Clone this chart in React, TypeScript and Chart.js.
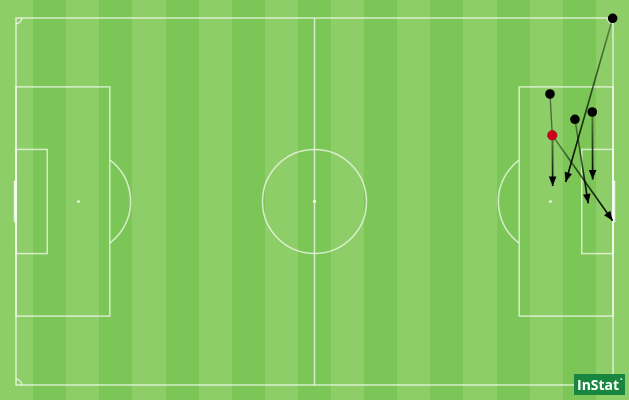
import React, { useEffect, useRef } from "react";
import { Chart, registerables } from "chart.js";

Chart.register(...registerables);

// Pitch dimensions (units along the pitch)
const PITCH_LENGTH = 105;
const PITCH_WIDTH = 64.55;

// Passes (arrows): start and end coordinates
const passStartX = [104.94, 94.32, 94.32, 98.31, 101.35];
const passStartY = [0.05, 20.63, 20.63, 17.82, 16.53];
const passEndX = [96.68, 94.39, 104.94, 100.65, 101.42];
const passEndY = [28.84, 29.55, 35.65, 32.62, 28.4];

// Carry (plain line, no arrowhead)
const carryStartX = [93.92];
const carryStartY = [13.37];
const carryEndX = [94.32];
const carryEndY = [20.63];

// Player dots
const playerX = [104.94, 93.92, 98.31, 101.35];
const playerY = [0.05, 13.37, 17.82, 16.53];

// Highlighted player (red)
const keyX = [94.32];
const keyY = [20.63];

const STRIPE_LIGHT = "rgb(142,206,104)";
const STRIPE_DARK = "rgb(123,198,86)";
const LINE_COLOR = "rgba(255,255,255,0.68)";

const pitchPlugin = {
  id: "pitch",
  beforeDraw(chart: any) {
    const { ctx, scales, width } = chart;
    const sx = scales.x;
    const sy = scales.y;
    const px = (v: number) => sx.getPixelForValue(v);
    const py = (v: number) => sy.getPixelForValue(v);
    const unit = px(1) - px(0);
    ctx.save();
    // stripes
    const n = 19;
    const sw = width / n;
    for (let i = 0; i < n; i++) {
      ctx.fillStyle = i % 2 === 0 ? STRIPE_LIGHT : STRIPE_DARK;
      ctx.fillRect(Math.round(i * sw), 0, Math.ceil(sw) + 1, 400);
    }
    ctx.strokeStyle = LINE_COLOR;
    ctx.lineWidth = 1.5;
    const L = PITCH_LENGTH;
    const W = PITCH_WIDTH;
    const cy = W / 2;
    // outer
    ctx.strokeRect(px(0), py(0), px(L) - px(0), py(W) - py(0));
    // half line
    ctx.beginPath();
    ctx.moveTo(px(L / 2), py(0));
    ctx.lineTo(px(L / 2), py(W));
    ctx.stroke();
    // centre circle
    ctx.beginPath();
    ctx.arc(px(L / 2), py(cy), 9.15 * unit, 0, Math.PI * 2);
    ctx.stroke();
    ctx.fillStyle = LINE_COLOR;
    ctx.beginPath();
    ctx.arc(px(L / 2), py(cy), 1.8, 0, Math.PI * 2);
    ctx.fill();
    const a = Math.acos(5.5 / 9.15);
    for (const side of [0, 1]) {
      const dir = side === 0 ? 1 : -1;
      const gx = side === 0 ? 0 : L;
      // penalty area
      ctx.strokeRect(
        Math.min(px(gx), px(gx + dir * 16.5)),
        py(cy - 20.16),
        Math.abs(px(gx + dir * 16.5) - px(gx)),
        py(cy + 20.16) - py(cy - 20.16)
      );
      // goal area
      ctx.strokeRect(
        Math.min(px(gx), px(gx + dir * 5.5)),
        py(cy - 9.16),
        Math.abs(px(gx + dir * 5.5) - px(gx)),
        py(cy + 9.16) - py(cy - 9.16)
      );
      // spot
      ctx.beginPath();
      ctx.arc(px(gx + dir * 11), py(cy), 1.6, 0, Math.PI * 2);
      ctx.fill();
      // arc
      ctx.beginPath();
      if (side === 0) ctx.arc(px(gx + 11), py(cy), 9.15 * unit, -a, a);
      else ctx.arc(px(gx - 11), py(cy), 9.15 * unit, Math.PI - a, Math.PI + a);
      ctx.stroke();
      // goal
      ctx.save();
      ctx.lineWidth = 2.5;
      ctx.strokeStyle = "rgba(255,255,255,0.8)";
      ctx.beginPath();
      ctx.moveTo(px(gx) - dir * 1, py(cy - 3.66));
      ctx.lineTo(px(gx) - dir * 1, py(cy + 3.66));
      ctx.stroke();
      ctx.restore();
    }
    // corner arcs
    const corners: [number, number, number, number][] = [
      [0, 0, 0, Math.PI / 2],
      [L, 0, Math.PI / 2, Math.PI],
      [L, W, Math.PI, 1.5 * Math.PI],
      [0, W, 1.5 * Math.PI, 2 * Math.PI],
    ];
    for (const [x, y, s, e] of corners) {
      ctx.beginPath();
      ctx.arc(px(x), py(y), 1 * unit, s, e);
      ctx.stroke();
    }
    ctx.restore();
  },
  afterDatasetsDraw(chart: any) {
    const { ctx } = chart;
    ctx.save();
    chart.data.datasets.forEach((ds: any, i: number) => {
      if (!ds.arrow) return;
      const meta = chart.getDatasetMeta(i);
      const p0 = meta.data[0];
      const p1 = meta.data[1];
      if (!p0 || !p1) return;
      const ang = Math.atan2(p1.y - p0.y, p1.x - p0.x);
      const len = 9.5;
      const hw = 3.8;
      ctx.fillStyle = "#000";
      ctx.beginPath();
      ctx.moveTo(p1.x, p1.y);
      ctx.lineTo(
        p1.x - len * Math.cos(ang) + hw * Math.sin(ang),
        p1.y - len * Math.sin(ang) - hw * Math.cos(ang)
      );
      ctx.lineTo(
        p1.x - len * Math.cos(ang) - hw * Math.sin(ang),
        p1.y - len * Math.sin(ang) + hw * Math.cos(ang)
      );
      ctx.closePath();
      ctx.fill();
    });
    ctx.restore();
  },
  afterDraw(chart: any) {
    const { ctx } = chart;
    ctx.save();
    ctx.fillStyle = "rgb(24,134,62)";
    ctx.fillRect(574, 374, 51, 21);
    ctx.fillStyle = "#fff";
    ctx.font = 'bold 14px "Open Sans"';
    ctx.textBaseline = "alphabetic";
    ctx.fillText("InStat", 577, 390);
    ctx.font = 'bold 6px "Open Sans"';
    ctx.fillText("°", 620, 382);
    ctx.restore();
  },
};

export default function App() {
  const ref = useRef<HTMLCanvasElement | null>(null);
  useEffect(() => {
    const canvas = ref.current;
    if (!canvas) return;
    const c2d = canvas.getContext("2d") as CanvasRenderingContext2D;
    const grad = (sc: any) => {
      const g = c2d.createLinearGradient(sc.p0.x, sc.p0.y, sc.p1.x, sc.p1.y);
      g.addColorStop(0, "rgba(0,0,0,0.35)");
      g.addColorStop(1, "rgba(0,0,0,1)");
      return g;
    };
    const passDatasets = passStartX.map((_, i) => ({
      type: "line",
      arrow: true,
      data: [
        { x: passStartX[i], y: passStartY[i] },
        { x: passEndX[i], y: passEndY[i] },
      ],
      showLine: true,
      pointRadius: 0,
      borderWidth: 1.6,
      borderColor: "#000",
      segment: { borderColor: grad },
      clip: false,
    }));
    const carryDatasets = carryStartX.map((_, i) => ({
      type: "line",
      data: [
        { x: carryStartX[i], y: carryStartY[i] },
        { x: carryEndX[i], y: carryEndY[i] },
      ],
      showLine: true,
      pointRadius: 0,
      borderWidth: 1.4,
      borderColor: "rgba(40,40,40,0.6)",
      clip: false,
    }));
    const chart = new Chart(canvas, {
      type: "scatter",
      data: {
        datasets: [
          {
            data: keyX.map((x, i) => ({ x, y: keyY[i] })),
            pointRadius: 4.8,
            pointBackgroundColor: "#d0021b",
            pointBorderColor: "#8a0010",
            pointBorderWidth: 0.5,
            clip: false,
          },
          {
            data: playerX.map((x, i) => ({ x, y: playerY[i] })),
            pointRadius: 4.8,
            pointBackgroundColor: "#000",
            pointBorderColor: "#000",
            pointBorderWidth: 0,
            clip: false,
          },
          ...passDatasets,
          ...carryDatasets,
        ] as any,
      },
      options: {
        animation: false,
        responsive: false,
        maintainAspectRatio: false,
        layout: { padding: { left: 16, right: 16, top: 18, bottom: 19 } },
        scales: {
          x: { type: "linear", min: 0, max: PITCH_LENGTH, display: false },
          y: { type: "linear", min: 0, max: PITCH_WIDTH, reverse: true, display: false },
        },
        plugins: {
          legend: { display: false },
          tooltip: { enabled: false },
        },
        events: [],
      } as any,
      plugins: [pitchPlugin],
    });
    return () => chart.destroy();
  }, []);
  return (
    <div style={{ position: "absolute", left: 0, top: 0, width: 629, height: 404, background: "#fff" }}>
      <canvas ref={ref} width={629} height={404} style={{ display: "block" }} />
    </div>
  );
}
